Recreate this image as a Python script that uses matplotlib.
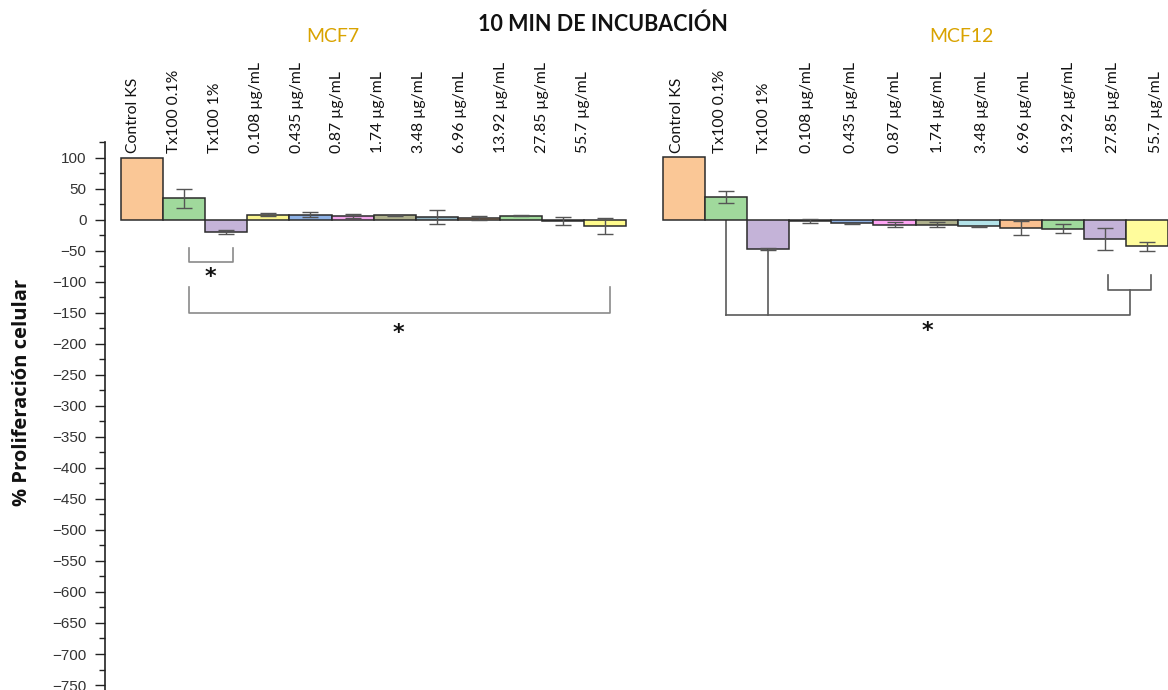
import numpy as np
import matplotlib
matplotlib.use("Agg")
import matplotlib.pyplot as plt

categories = ["Control KS", "Tx100 0.1%", "Tx100 1%", "0.108 µg/mL", "0.435 µg/mL",
              "0.87 µg/mL", "1.74 µg/mL", "3.48 µg/mL", "6.96 µg/mL", "13.92 µg/mL",
              "27.85 µg/mL", "55.7 µg/mL"]

mcf7_values = [100, 34, -20, 8, 7.5, 6, 7, 4, 3, 6.5, -3, -10]
mcf7_errors = [0, 15, 3, 3, 4, 3, 1, 11, 3, 1.5, 6.5, 12.5]
mcf12_values = [101, 36.5, -48, -2.5, -6, -8.5, -8, -11, -14, -14.5, -31, -43]
mcf12_errors = [0, 10, 1.5, 3, 1, 4, 3.5, 1, 11, 7, 18, 7]

mcf7_colors = ["#FAC796", "#A0D99C", "#C4B3D8", "#FAF58E", "#8EB2E6", "#F5A6EE",
               "#AEB08C", "#94B5C2", "#F3B98C", "#9FD99A", "#6F7485", "#FFFB8C"]
mcf12_colors = ["#FAC796", "#A0D99C", "#C4B3D8", "#FFFF99", "#8EB2E6", "#FFA6F5",
                "#AEB08C", "#B3E3E9", "#FAC090", "#A0D99C", "#C4B3D8", "#FFFC9C"]

group_names = ["MCF7", "MCF12"]
title = "10 MIN DE INCUBACIÓN"
ylabel = "% Proliferación celular"

# ---- layout ----
W, H = 11.68, 6.90
fig = plt.figure(figsize=(W, H), dpi=100)
ax = fig.add_axes([104.5 / 1168, 0, 1 - 104.5 / 1168, 548 / 690])

pitch_px = 42.1
x7 = np.arange(len(mcf7_values), dtype=float)
off12 = (663 - 121) / pitch_px
x12 = np.arange(len(mcf12_values), dtype=float) + off12

bar_kw = dict(width=1.0, edgecolor="#2b2b2b", linewidth=1.1, zorder=2)
ax.bar(x7, mcf7_values, color=mcf7_colors, **bar_kw)
ax.bar(x12, mcf12_values, color=mcf12_colors, **bar_kw)

err_kw = dict(fmt="none", ecolor="#555555", elinewidth=1.0, capsize=6, capthick=1.0, zorder=3)
e7 = np.array(mcf7_errors, dtype=float)
e12 = np.array(mcf12_errors, dtype=float)
m7 = e7 > 0
m12 = e12 > 0
ax.errorbar(x7[m7], np.array(mcf7_values)[m7], yerr=e7[m7], **err_kw)
ax.errorbar(x12[m12], np.array(mcf12_values)[m12], yerr=e12[m12], **err_kw)

ax.set_xlim(-0.5 - (121 - 104.5) / pitch_px, -0.5 + (1168 - 121) / pitch_px)
ax.set_ylim(-758, 125)

ax.spines["top"].set_visible(False)
ax.spines["right"].set_visible(False)
ax.spines["bottom"].set_visible(False)
ax.spines["left"].set_color("#222222")
ax.spines["left"].set_linewidth(1.2)
ax.set_xticks([])
ax.set_yticks(np.arange(-750, 101, 50))
ax.set_yticks(np.arange(-725, 126, 50), minor=True)
ax.tick_params(axis="y", which="major", direction="out", length=7, width=1, color="#222222",
               labelsize=11, labelcolor="#333333", pad=6)
ax.tick_params(axis="y", which="minor", direction="out", length=4, width=1, color="#222222")
for lab in ax.get_yticklabels():
    lab.set_family("Liberation Sans")

fig.text(22 / 1168, 1 - 392 / 690, ylabel, rotation=90, ha="center", va="center",
         fontsize=14.5, fontweight="bold", family="Open Sans", color="#111111")

# category labels
lab_font = dict(rotation=90, ha="center", va="bottom", fontsize=11.3, family="Lato",
                color="#111111", clip_on=False)
lab7_start = (133 - 121) / pitch_px - 0.5
lab7_step = 40.9 / pitch_px
lab12_start = (676.7 - 121) / pitch_px - 0.5
lab12_step = 43.6 / pitch_px
for i, c in enumerate(categories):
    ax.text(lab7_start + i * lab7_step, 107, c, **lab_font)
    ax.text(lab12_start + i * lab12_step, 107, c, **lab_font)

fig.text(333 / 1168, 1 - 37 / 690, group_names[0], ha="center", va="center",
         fontsize=14, family="Lato", color="#D9A300")
fig.text(961 / 1168, 1 - 37 / 690, group_names[1], ha="center", va="center",
         fontsize=14, family="Lato", color="#D9A300")
fig.text(603 / 1168, 1 - 24 / 690, title, ha="center", va="center",
         fontsize=15.5, fontweight="bold", family="Lato", color="#111111")

# significance brackets (MCF7)
gl = dict(color="#8a8a8a", lw=1.2, zorder=1, clip_on=False)
ax.plot([1.12, 1.12, 2.15, 2.15], [-45, -69, -69, -45], **gl)
ax.text(1.63, -92, "*", ha="center", va="center", fontsize=16, fontweight="bold", color="#111111")
ax.plot([1.12, 1.12, 11.12, 11.12], [-109, -151, -151, -109], **gl)
ax.text(6.09, -182, "*", ha="center", va="center", fontsize=16, fontweight="bold", color="#111111")

# significance brackets (MCF12)
gl2 = dict(color="#5a5a5a", lw=1.2, zorder=1, clip_on=False)
ax.plot([off12 + 1, off12 + 1], [0, -154], **gl2)
ax.plot([off12 + 2, off12 + 2], [-48, -154], **gl2)
ax.plot([off12 + 1, off12 + 10.6, off12 + 10.6], [-154, -154, -114], **gl2)
ax.plot([off12 + 10.08, off12 + 10.08, off12 + 11.1, off12 + 11.1], [-90, -114, -114, -90], **gl2)
ax.text(off12 + 5.77, -179, "*", ha="center", va="center", fontsize=16, fontweight="bold", color="#111111")

fig.savefig("out.png", dpi=100)
